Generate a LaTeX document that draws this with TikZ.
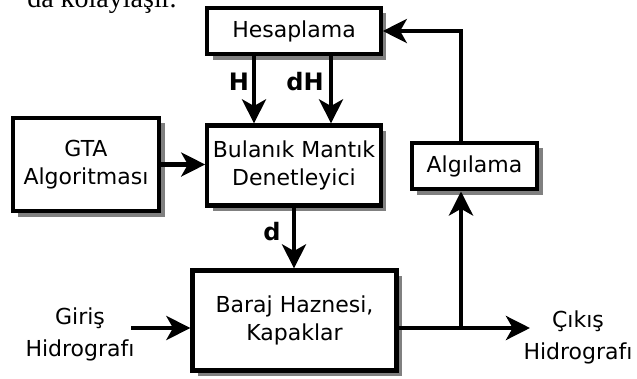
\documentclass[tikz,border=0pt]{standalone}
\usepackage{fontspec}
\setmainfont{DejaVu Sans}
\newfontfamily\metinfont{Liberation Serif}
\usetikzlibrary{arrows.meta,positioning,shadows}

\begin{document}
\begin{tikzpicture}[
    x=0.75pt, y=-0.75pt,
    blok/.style={rectangle, draw=black, fill=white, line width=3.2pt, align=center, inner sep=0pt, font=\fontsize{16.5}{21}\selectfont, drop shadow={shadow xshift=4pt, shadow yshift=-4pt, fill=black!50, opacity=1}},
    etiket/.style={align=center, inner sep=0pt, font=\fontsize{16.5}{24}\selectfont},
    isaret/.style={inner sep=0pt, font=\fontsize{18}{20}\selectfont\bfseries},
    ok/.style={-{Stealth[length=18pt, width=18pt, inset=5pt]}, line width=3.2pt}
]
    \useasboundingbox (0,0) rectangle (637,379);
    \clip (0,0) rectangle (637,379);

    % cut-off line of the page text
    \node [anchor=base west, inner sep=0pt, font=\metinfont\fontsize{21}{24}\selectfont] (metin) at (27,7) {da kolaylaşır.};

    % blocks
    \node [blok, minimum width=130pt, minimum height=35pt] (hes) at (294,31) {Hesaplama};
    \node [blok, minimum width=130pt, minimum height=60pt] (blm) at (294,165.5) {Bulanık Mantık\\Denetleyici};
    \node [blok, minimum width=110pt, minimum height=70pt] (gta) at (86,164.5) {GTA\\Algoritması};
    \node [blok, minimum width=94pt, minimum height=35pt] (alg) at (474.5,166) {Algılama};
    \node [blok, minimum width=153pt, minimum height=75pt] (baraj) at (294.5,320.5) {Baraj Haznesi,\\Kapaklar};

    % inputs and outputs
    \node [etiket] (giris) at (80,334) {Giriş\\Hidrografı};
    \node [etiket] (cikis) at (578,337) {Çıkış\\Hidrografı};
    \coordinate (gir) at (131,328);
    \coordinate (dal) at (461,328);
    \coordinate (cik) at (530,328);

    % signals
    \draw [ok] ([xshift=-30pt]hes.south) -- ([xshift=-30pt]blm.north);
    \draw [ok] ([xshift=27.75pt]hes.south) -- ([xshift=27.75pt]blm.north);
    \draw [ok] (gta.east) -- (gta.east -| blm.west);
    \draw [ok] (blm.south) -- (blm.south |- baraj.north);
    \draw [ok] (gir) -- (gir -| baraj.west);
    \draw [ok] (baraj.east |- cik) -- (cik);
    \draw [ok] (dal) -- (dal |- alg.south);
    \draw [ok] (dal |- alg.north) |- (hes.east);

    \node [isaret] (h) at (239,82) {H};
    \node [isaret] (dh) at (305,82) {dH};
    \node [isaret] (d) at (272,232) {d};
\end{tikzpicture}
\end{document}
